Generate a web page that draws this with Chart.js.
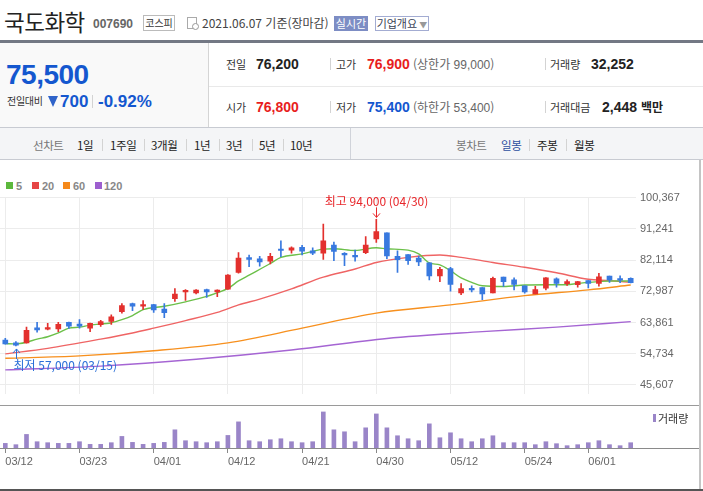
<!DOCTYPE html>
<html lang="ko">
<head>
<meta charset="utf-8">
<title>국도화학 일봉</title>
<script src="https://cdn.jsdelivr.net/npm/chart.js@4.4.1/dist/chart.umd.min.js"></script>
<style>
  body { margin:0; width:703px; height:491px; overflow:hidden; background:#fff; position:relative;
         font-family:"Noto Sans CJK KR", "Liberation Sans", sans-serif; color:#333; }
  .a { position:absolute; white-space:nowrap; line-height:16px; }
  .n { font-family:"Liberation Sans", Arial, sans-serif; font-weight:bold; }
  .lbl { font-size:11px; color:#333; }
  .val { font-size:14px; color:#222; }
  .sub { font-size:12px; color:#666; }
  .sep { position:absolute; width:1px; background:#d3d3d3; }
  .red { color:#e81d1d; }
  .blue { color:#1457cf; }
  .tab { font-size:11.5px; color:#222; letter-spacing:-0.4px; }
  .hline { position:absolute; left:0; height:1px; }
  .lg { position:absolute; top:182px; width:7px; height:7px; }
  .lgt { position:absolute; top:178px; font:bold 11px "Liberation Sans", sans-serif; color:#888; line-height:16px; }
  canvas { position:absolute; left:0; }
</style>
</head>
<body>
<!-- title row -->
<div class="a" style="left:4px;top:7px;font-size:22.5px;line-height:28px;color:#222;letter-spacing:-0.5px">국도화학</div>
<div class="a n" style="left:93px;top:16px;font-size:12px;color:#666">007690</div>
<div class="a" style="left:143px;top:15px;width:30px;height:14px;border:1px solid #bbb;font-size:10px;line-height:14px;text-align:center;color:#333">코스피</div>
<div class="a" style="left:187px;top:17px;width:8px;height:10px;border:1px solid #aaa;"></div>
<div class="a" style="left:192px;top:23px;width:5px;height:5px;border:1px solid #999;border-radius:50%;background:#fff"></div>
<div class="a" style="left:202px;top:15px;font-size:12px;color:#444">2021.06.07 기준(장마감)</div>
<div class="a" style="left:334px;top:16px;width:34px;height:15px;background:#7d8dc4;color:#fff;font-size:11px;line-height:15px;text-align:center">실시간</div>
<div class="a" style="left:375px;top:16px;width:52px;height:13px;border:1px solid #a3acd2;color:#3a3f55;font-size:11px;line-height:13px;text-align:center">기업개요<span style="color:#999;font-size:8px"> ▼</span></div>
<div class="hline" style="top:40px;width:703px;height:3px;background:#737884"></div>

<!-- summary -->
<div class="a" style="left:0;top:43px;width:208px;height:84px;background:#f9f9f9;border-right:1px solid #d5d5d5"></div>
<div class="hline" style="left:209px;top:86px;width:494px;background:#e9e9e9"></div>
<div class="hline" style="top:127px;width:703px;background:#c8cbd2"></div>
<div class="a n blue" style="left:6px;top:58px;font-size:28px;line-height:34px;letter-spacing:-0.5px">75,500</div>
<div class="a" style="left:7px;top:93px;font-size:10px;letter-spacing:-0.3px;color:#333">전일대비</div>
<div class="a" style="left:48px;top:96px;width:0;height:0;border-left:5px solid transparent;border-right:5px solid transparent;border-top:11px solid #2f63c9"></div>
<div class="a n blue" style="left:60px;top:93px;font-size:17px;line-height:18px">700</div>
<div class="sep" style="left:92px;top:95px;height:13px"></div>
<div class="a n blue" style="left:98px;top:93px;font-size:17px;line-height:18px">-0.92%</div>

<div class="a lbl" style="left:226px;top:56px">전일</div>
<div class="a n val" style="left:256px;top:56px">76,200</div>
<div class="sep" style="left:330px;top:58px;height:12px"></div>
<div class="a lbl" style="left:336px;top:56px">고가</div>
<div class="a n val red" style="left:367px;top:56px">76,900</div>
<div class="a sub" style="left:413px;top:56px">(상한가 <span style="font-family:'Liberation Sans',sans-serif">99,000</span>)</div>
<div class="sep" style="left:545px;top:58px;height:12px"></div>
<div class="a lbl" style="left:550px;top:56px">거래량</div>
<div class="a n val" style="left:591px;top:56px">32,252</div>

<div class="a lbl" style="left:226px;top:99px">시가</div>
<div class="a n val red" style="left:256px;top:99px">76,800</div>
<div class="sep" style="left:330px;top:101px;height:12px"></div>
<div class="a lbl" style="left:336px;top:99px">저가</div>
<div class="a n val blue" style="left:367px;top:99px">75,400</div>
<div class="a sub" style="left:413px;top:99px">(하한가 <span style="font-family:'Liberation Sans',sans-serif">53,400</span>)</div>
<div class="sep" style="left:545px;top:101px;height:12px"></div>
<div class="a lbl" style="left:550px;top:99px">거래대금</div>
<div class="a n val" style="left:602px;top:99px">2,448 <span style="font-family:'Noto Sans CJK KR';font-size:12px">백만</span></div>

<!-- tab bar -->
<div class="a" style="left:0;top:128px;width:703px;height:31px;background:#f4f5f7;border-bottom:1px solid #c8cbd2"></div>
<div class="sep" style="left:350px;top:128px;height:31px;background:#d0d3da"></div>
<div class="a tab" style="left:33px;top:137px;color:#777">선차트</div>
<div class="a tab" style="left:77px;top:137px">1일</div>
<div class="sep" style="left:102px;top:139px;height:12px"></div>
<div class="a tab" style="left:110px;top:137px">1주일</div>
<div class="sep" style="left:144px;top:139px;height:12px"></div>
<div class="a tab" style="left:151px;top:137px">3개월</div>
<div class="sep" style="left:186px;top:139px;height:12px"></div>
<div class="a tab" style="left:194px;top:137px">1년</div>
<div class="sep" style="left:219px;top:139px;height:12px"></div>
<div class="a tab" style="left:226px;top:137px">3년</div>
<div class="sep" style="left:252px;top:139px;height:12px"></div>
<div class="a tab" style="left:259px;top:137px">5년</div>
<div class="sep" style="left:283px;top:139px;height:12px"></div>
<div class="a tab" style="left:290px;top:137px">10년</div>
<div class="a tab" style="left:456px;top:137px;color:#777">봉차트</div>
<div class="a tab" style="left:501px;top:137px;color:#2d4fa0">일봉</div>
<div class="sep" style="left:529px;top:139px;height:12px"></div>
<div class="a tab" style="left:537px;top:137px">주봉</div>
<div class="sep" style="left:566px;top:139px;height:12px"></div>
<div class="a tab" style="left:574px;top:137px">월봉</div>

<!-- chart frame -->
<div class="a" style="left:699px;top:160px;width:2px;height:331px;background:#c4c4c4"></div>
<div class="lg" style="left:6px;background:#5cb83c"></div><div class="lgt" style="left:16px">5</div>
<div class="lg" style="left:32px;background:#e64545"></div><div class="lgt" style="left:42px">20</div>
<div class="lg" style="left:63px;background:#f5891a"></div><div class="lgt" style="left:73px">60</div>
<div class="lg" style="left:95px;background:#9d5fcf"></div><div class="lgt" style="left:104px">120</div>

<canvas id="price" width="703" height="218" style="top:187px"></canvas>
<div class="hline" style="top:405px;width:699px;background:#9a9a9a"></div>
<canvas id="vol" width="703" height="85" style="top:406px"></canvas>
<div class="hline" style="top:448px;width:699px;background:#8a8a8a"></div>
<div class="a" style="left:653px;top:414px;width:3px;height:8px;background:#9a85c8"></div>
<div class="a" style="left:658px;top:410px;font-size:11px;color:#333">거래량</div>
<div class="hline" style="top:489px;width:703px;height:2px;background:#555"></div>

<script>
const dates = ['03/12','03/15','03/16','03/17','03/18','03/19','03/22','03/23','03/24','03/25',
  '03/26','03/29','03/30','03/31','04/01','04/02','04/05','04/06','04/07','04/08',
  '04/09','04/12','04/13','04/14','04/15','04/16','04/19','04/20','04/21','04/22',
  '04/23','04/26','04/27','04/28','04/29','04/30','05/03','05/04','05/06','05/07',
  '05/10','05/11','05/12','05/13','05/14','05/17','05/18','05/20','05/21','05/24',
  '05/25','05/26','05/27','05/28','05/31','06/01','06/02','06/03','06/04','06/07'];

const opens = [58700,57900,57900,62300,61900,62000,63900,63400,62200,63200,
  64200,67000,69400,68600,69100,67800,70800,72800,72500,73500,
  72800,73600,78500,82800,82500,81800,85200,85000,85800,84800,
  84100,86500,84100,83500,84300,88300,90100,83200,83700,82700,
  81300,77500,79600,72500,73800,74100,72500,77100,76300,74600,
  72200,73900,76600,75200,74900,76100,75300,77400,76700,76800];
const highs = [59200,58300,62500,63900,63600,63900,64000,64700,63700,64500,
  66100,69400,69500,70300,69200,69400,73800,73500,73500,73600,
  73400,77900,84300,83600,83200,84100,87700,86000,86400,85700,
  92600,87400,84300,85000,89000,94000,90100,84800,83700,83300,
  81300,80000,80000,75200,74600,74100,77100,77100,76900,74600,
  74400,77000,76900,76300,75900,76100,78200,77400,77500,76900];
const lows = [57500,57000,57800,61000,61700,61200,62100,62200,61200,62700,
  63300,66600,67300,67700,66800,65300,70000,70300,72200,71200,
  71400,73500,78300,80200,80300,81000,83100,84100,83600,83700,
  82300,81900,80500,81800,84000,87300,82500,78500,80800,80500,
  76300,75800,73000,72000,72800,70500,72500,74400,73400,72400,
  72200,73400,74200,74700,74200,74000,74500,75600,75500,75400];
const closes = [57600,57200,61600,61700,62200,63300,62800,62800,63600,64100,
  65500,68800,68600,69100,67500,66700,72200,73100,73300,72800,
  73300,77700,82700,82300,81600,83200,84900,85700,84700,84100,
  87700,84600,83600,83000,86500,90400,83300,82200,81900,81600,
  77500,79400,75000,73800,73400,72200,76800,75800,75000,72800,
  73500,76900,75300,75800,75800,75300,77200,76300,76200,75500];
const volumes = [28200,20200,82700,38300,32300,28200,28200,38300,22200,22200,
  32300,70600,34300,22200,28200,34300,110900,44400,38300,32300,
  38300,76600,159300,44400,38300,50400,56400,38300,32300,38300,
  219700,110900,98800,38300,123000,207600,123000,74600,56400,44400,
  147200,62500,92700,56400,38300,56400,74600,32300,32300,32300,
  20200,38300,26200,14100,20200,32300,44400,20200,14100,32252];

// moving averages at these candle positions
const ma5Idx = [0,1,2,3,4,5,6,7,8,10,11,12,13,15,17,19,21,22,23,25,26,28,30,31,33,35,36,38,39,40,41,42,43,44,45,47,49,51,53,54,56,57,59];
const ma5Val = [57700,57600,58100,59000,59700,60800,62200,62500,63100,63800,64700,65900,67600,68600,69900,71500,73800,76000,77700,81100,82900,83900,85300,85400,84900,85700,85400,85000,83900,81300,80700,79000,76900,75600,74600,74400,74800,74900,74900,75300,75800,76000,76000];
const ma20Idx = [0,4,9,12,14,17,20,22,24,27,30,33,35,38,41,43,46,49,52,55,57,59];
const ma20Val = [54700,56300,59000,60800,62200,64400,66800,69000,70700,73700,77100,79500,81400,82900,83600,82900,81400,80000,78400,76500,76100,75600];
const ma60Idx = [0,7,14,21,28,35,42,49,55,59];
const ma60Val = [53400,54100,55600,57900,62200,66600,69000,71700,73400,74800];
const ma120Idx = [0,9,18,27,36,45,52,59];
const ma120Val = [50000,51100,53100,55800,59200,61200,62500,64100];

const priceTicks = [100367, 91241, 82114, 72987, 63861, 54734, 45607];
const dateTicks = ['03/12','03/23','04/01','04/12','04/21','04/30','05/12','05/24','06/01'];

const UP = '#e3302d', DOWN = '#3879df';
const candleColor = closes.map((c, i) => c >= opens[i] ? UP : DOWN);
const tickIdx = dateTicks.map(d => dates.indexOf(d));
const yStep = (priceTicks[0] - priceTicks[priceTicks.length - 1]) / (priceTicks.length - 1);
const yMin = priceTicks[priceTicks.length - 1] - yStep * 10 / 33;

function maLine(idx, vals, color) {
  return {
    type: 'line',
    data: idx.map((d, k) => ({ x: dates[d], y: vals[k] })),
    borderColor: color,
    borderWidth: 1.4,
    pointRadius: 0,
    cubicInterpolationMode: 'monotone',
    order: 5
  };
}

const markHiLo = {
  id: 'markHiLo',
  afterDatasetsDraw(chart) {
    const { ctx, scales: { x, y } } = chart;
    const hi = Math.max(...highs), lo = Math.min(...lows);
    const hiI = highs.indexOf(hi), loI = lows.indexOf(lo);
    ctx.save();
    ctx.font = '12px "Noto Sans CJK KR", sans-serif';
    ctx.textBaseline = 'middle';
    ctx.lineWidth = 1;

    let px = Math.round(x.getPixelForValue(hiI)) + 0.5, py = y.getPixelForValue(hi);
    ctx.fillStyle = ctx.strokeStyle = '#e8262a';
    ctx.textAlign = 'center';
    ctx.fillText('최고 ' + hi.toLocaleString('en-US') + ' (' + dates[hiI] + ')', px, py - 18);
    ctx.beginPath();
    ctx.moveTo(px, py - 12); ctx.lineTo(px, py - 2);
    ctx.moveTo(px - 3.5, py - 6); ctx.lineTo(px, py - 2); ctx.lineTo(px + 3.5, py - 6);
    ctx.stroke();

    px = Math.round(x.getPixelForValue(loI)) + 0.5; py = y.getPixelForValue(lo);
    ctx.fillStyle = ctx.strokeStyle = '#2a6fd8';
    ctx.textAlign = 'left';
    ctx.fillText('최저 ' + lo.toLocaleString('en-US') + ' (' + dates[loI] + ')', px - 3, py + 19);
    ctx.beginPath();
    ctx.moveTo(px, py + 13); ctx.lineTo(px, py + 3);
    ctx.moveTo(px - 3.5, py + 7); ctx.lineTo(px, py + 3); ctx.lineTo(px + 3.5, py + 7);
    ctx.stroke();
    ctx.restore();
  }
};

new Chart(document.getElementById('price'), {
  type: 'bar',
  data: {
    labels: dates,
    datasets: [
      {
        data: lows.map((l, i) => [l, highs[i]]),
        backgroundColor: candleColor,
        barThickness: 1,
        grouped: false,
        order: 2
      },
      {
        data: opens.map((o, i) => [o, closes[i]]),
        backgroundColor: candleColor,
        barThickness: 5,
        minBarLength: 1.5,
        grouped: false,
        order: 1
      },
      maLine(ma5Idx, ma5Val, '#6cc04a'),
      maLine(ma20Idx, ma20Val, '#ef6464'),
      maLine(ma60Idx, ma60Val, '#f7901e'),
      maLine(ma120Idx, ma120Val, '#a565d3')
    ]
  },
  options: {
    responsive: false,
    animation: false,
    layout: { padding: { top: 10, left: 0, right: 0, bottom: 0 } },
    plugins: { legend: { display: false }, tooltip: { enabled: false } },
    scales: {
      x: {
        offset: true,
        grid: { offset: false, color: '#ececec', drawTicks: false },
        border: { display: false },
        ticks: { display: false, autoSkip: false },
        afterBuildTicks: axis => { axis.ticks = tickIdx.map(v => ({ value: v })); },
        afterFit: axis => { axis.height = 0; }
      },
      y: {
        position: 'right',
        min: yMin,
        max: priceTicks[0],
        grid: { color: '#ececec', drawTicks: false },
        border: { display: false },
        ticks: {
          padding: 4,
          color: '#666',
          font: { family: '"Liberation Sans", sans-serif', size: 11 },
          callback: v => Math.round(v).toLocaleString('en-US')
        },
        afterBuildTicks: axis => { axis.ticks = priceTicks.map(v => ({ value: v })); },
        afterFit: axis => { axis.width = 67; }
      }
    }
  },
  plugins: [markHiLo]
});

new Chart(document.getElementById('vol'), {
  type: 'bar',
  data: {
    labels: dates,
    datasets: [{
      label: '거래량',
      data: volumes,
      backgroundColor: '#9a85c8',
      barThickness: 4
    }]
  },
  options: {
    responsive: false,
    animation: false,
    layout: { padding: { top: 0, left: 0, right: 67, bottom: 0 } },
    plugins: { legend: { display: false }, tooltip: { enabled: false } },
    scales: {
      x: {
        offset: true,
        grid: { offset: false, drawOnChartArea: false, drawTicks: true, tickLength: 5, tickColor: '#888' },
        border: { display: false },
        ticks: {
          autoSkip: false, maxRotation: 0, align: 'start', padding: 2,
          color: '#666', font: { family: '"Liberation Sans", sans-serif', size: 11 }
        },
        afterBuildTicks: axis => { axis.ticks = tickIdx.map(v => ({ value: v })); },
        afterFit: axis => { axis.height = 43; }
      },
      y: { display: false, min: 0, max: 256000 }
    }
  }
});
</script>
</body>
</html>
